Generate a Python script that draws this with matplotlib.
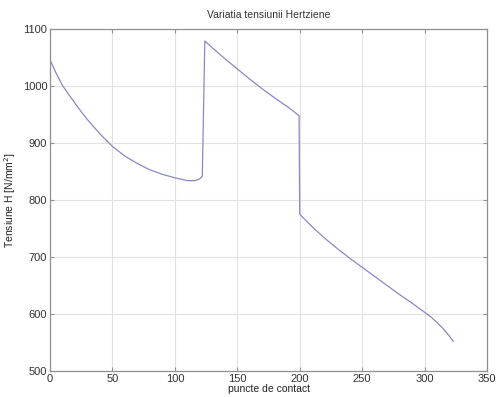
import matplotlib
matplotlib.use("Agg")
import matplotlib.pyplot as plt

plt.rcParams['font.family'] = ['Liberation Sans', 'DejaVu Sans']

x_vals = [0, 5, 10, 15, 20, 25, 30, 40, 50, 60, 70, 80, 90, 100, 110, 116, 120, 122,
          124, 130, 140, 150, 160, 170, 180, 190, 199.5,
          200, 210, 220, 230, 240, 250, 260, 270, 280, 290, 300, 305, 310, 315, 320, 323]
y_vals = [1046, 1022, 1001, 985, 970, 955, 941, 916, 894, 877, 864, 853, 845, 839, 834, 834, 837, 842,
          1079, 1067, 1048, 1030, 1012, 995, 979, 964, 948,
          775, 753, 733, 715, 698, 682, 666, 650, 634, 619, 603, 595, 585, 574, 561, 552]
x_ticks = [0, 50, 100, 150, 200, 250, 300, 350]
y_ticks = [500, 600, 700, 800, 900, 1000, 1100]

fig = plt.figure(figsize=(4.97, 3.97), dpi=100)
ax = fig.add_axes([50/497, 1-371/397, 437/497, 342/397])
ax.plot(x_vals, y_vals, color="#8888c8", lw=0.9)
ax.set_xlim(0, 350)
ax.set_ylim(500, 1100)
ax.set_xticks(x_ticks)
ax.set_yticks(y_ticks)
ax.grid(True, color="#e2e2e2", lw=0.8)
ax.set_axisbelow(True)
for s in ax.spines.values():
    s.set_color("#909090")
    s.set_linewidth(0.9)
ax.tick_params(direction="in", top=True, right=True, length=3, color="#909090",
               labelsize=8, labelcolor="#333333", pad=2)
ax.set_title("Variatia tensiunii Hertziene", fontsize=7.5, color="#333333", pad=8)
ax.set_xlabel("puncte de contact", fontsize=7.5, color="#222222", labelpad=0)
ax.set_ylabel("Tensiune H [N/mm$^2$]", fontsize=7.5, color="#222222", labelpad=3)
fig.savefig("out.png", dpi=100)
